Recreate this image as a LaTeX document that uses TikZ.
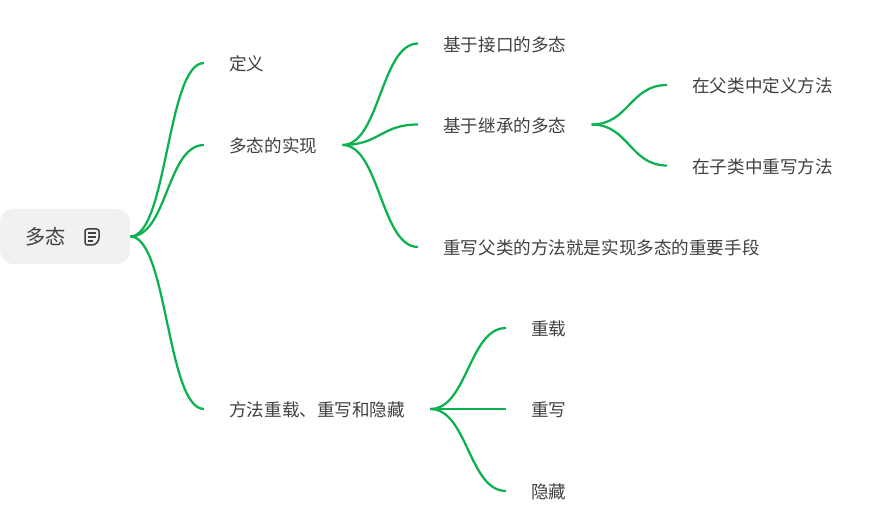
\documentclass[tikz,border=0pt]{standalone}
\usepackage{fontspec}
\setmainfont{Noto Sans CJK SC}
\usepackage{tikz}
\definecolor{linegreen}{HTML}{0CB14F}
\definecolor{textgray}{HTML}{404040}
\definecolor{rootgray}{HTML}{F1F1F1}
\tikzset{
  topic/.style={anchor=west,inner xsep=0.5cm,inner ysep=2pt,text height=11.8pt,text depth=3pt,text=textgray,font=\fontsize{10pt}{12pt}\selectfont},
  branch/.style={linegreen,line width=0.045cm},
}

\begin{document}
\begin{tikzpicture}[x=0.02cm,y=-0.02cm]
    \useasboundingbox (0,0) rectangle (877,516);
    % root
    \node (root) at (65,236.5) [fill=rootgray,rounded corners=0.26cm,minimum width=2.6cm,minimum height=1.1cm,inner sep=0] {};
    \node (rootlabel) at (45.5,236.5) [inner sep=0,text=textgray,font=\fontsize{11.5pt}{13pt}\selectfont] {多态};
    \draw[textgray,line width=0.03cm,rounded corners=0.05cm] (85,229) -- (99,229) -- (99,240) -- (95,245) -- (85,245) -- cycle;
    \draw[textgray,line width=0.025cm] (88,233) -- (96,233) (88,237) -- (96,237) (88,241) -- (93,241);
    % first level
    \node (def) at (204,63) [topic] {定义};
    \node (impl) at (204,145) [topic] {多态的实现};
    \node (over) at (204,409) [topic] {方法重载、重写和隐藏};
    % second level
    \node (iface) at (418,43.5) [topic] {基于接口的多态};
    \node (inherit) at (418,124.5) [topic] {基于继承的多态};
    \node (rewrite) at (418,247) [topic] {重写父类的方法就是实现多态的重要手段};
    \node (reload) at (506,328) [topic] {重载};
    \node (rewr) at (506,409) [topic] {重写};
    \node (hide) at (506,491) [topic] {隐藏};
    % third level
    \node (define) at (667,85) [topic] {在父类中定义方法};
    \node (redo) at (667,165.5) [topic] {在子类中重写方法};
    % connectors
    \foreach \from/\to in {root/def,root/impl,root/over,impl/iface,impl/inherit,impl/rewrite,inherit/define,inherit/redo,over/reload,over/rewr,over/hide}{
      \draw[branch] (\from.east) .. controls +(37,0) and +(-37,0) .. (\to.west);
    }
\end{tikzpicture}
\end{document}
